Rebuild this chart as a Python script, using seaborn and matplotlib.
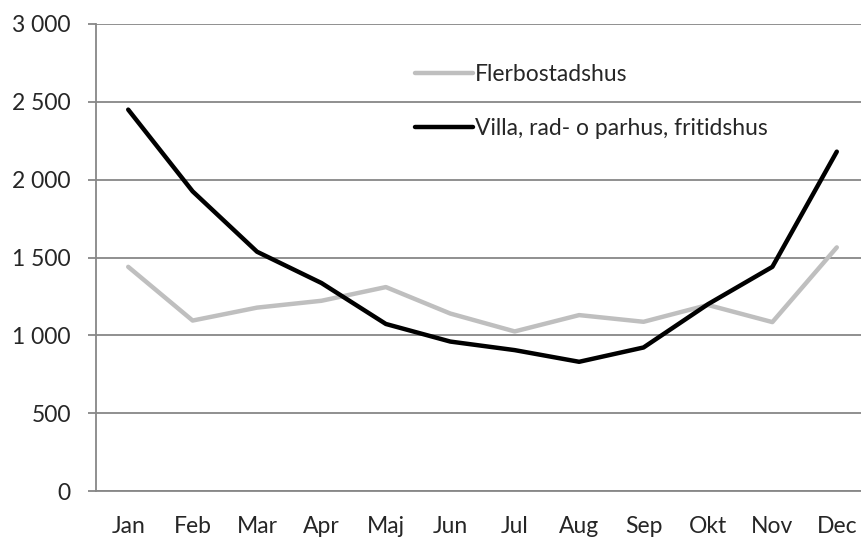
import numpy as np
import pandas as pd
import seaborn as sns
import matplotlib.pyplot as plt
from matplotlib.ticker import FuncFormatter, FixedLocator

months = ['Jan', 'Feb', 'Mar', 'Apr', 'Maj', 'Jun', 'Jul', 'Aug', 'Sep', 'Okt', 'Nov', 'Dec']
flerbostadshus = [1440, 1095, 1178, 1222, 1310, 1140, 1025, 1130, 1087, 1195, 1085, 1565]
villa = [2450, 1925, 1537, 1336, 1073, 960, 905, 830, 922, 1200, 1440, 2180]
series_names = ['Flerbostadshus', 'Villa, rad- o parhus, fritidshus']

sns.set_style('white')
plt.rcParams['font.family'] = ['Lato', 'DejaVu Sans']
fs = 16.5

df = pd.DataFrame({
    'month': months * 2,
    'x': list(range(len(months))) * 2,
    'value': flerbostadshus + villa,
    'serie': [series_names[0]] * 12 + [series_names[1]] * 12,
})

W, H = 861, 538
fig = plt.figure(figsize=(W / 100, H / 100), dpi=100)
ax = fig.add_axes([96 / W, (H - 491) / H, (869 - 96) / W, (491 - 24) / H])

sns.lineplot(data=df, x='x', y='value', hue='serie',
             palette={series_names[0]: '#bfbfbf', series_names[1]: '#000000'},
             linewidth=3.2, ax=ax, legend=True)

ax.set_xlim(-0.5, 11.5)
ax.set_ylim(0, 3000)
ax.set_yticks(np.arange(0, 3001, 500))
ax.yaxis.set_major_formatter(FuncFormatter(lambda v, p: f'{int(v):,}'.replace(',', ' ')))
ax.grid(axis='y', color='#878787', linewidth=1.3)
ax.set_axisbelow(True)

ax.set_xticks(range(12))
ax.set_xticklabels(months)
ax.xaxis.set_minor_locator(FixedLocator(np.arange(-0.5, 12, 1)))
ax.tick_params(axis='x', which='major', length=0, pad=18, labelsize=fs)
ax.tick_params(axis='x', which='minor', length=7, width=1.3, color='#878787', direction='out')
ax.tick_params(axis='y', length=6, width=1.3, color='#878787', labelsize=fs, pad=12, left=True)
ax.set_xlabel('')
ax.set_ylabel('')

for s in ['top', 'right']:
    ax.spines[s].set_visible(False)
for s in ['left', 'bottom']:
    ax.spines[s].set_color('#878787')
    ax.spines[s].set_linewidth(1.3)

handles, labels = ax.get_legend_handles_labels()
ax.legend(handles, labels, loc='upper left', bbox_to_anchor=(404 / W, 1 - 53 / H),
          bbox_transform=fig.transFigure, frameon=False, fontsize=fs, borderpad=0,
          handlelength=2.5, handletextpad=0.1, labelspacing=1.4)

fig.savefig('out.png', dpi=100)
